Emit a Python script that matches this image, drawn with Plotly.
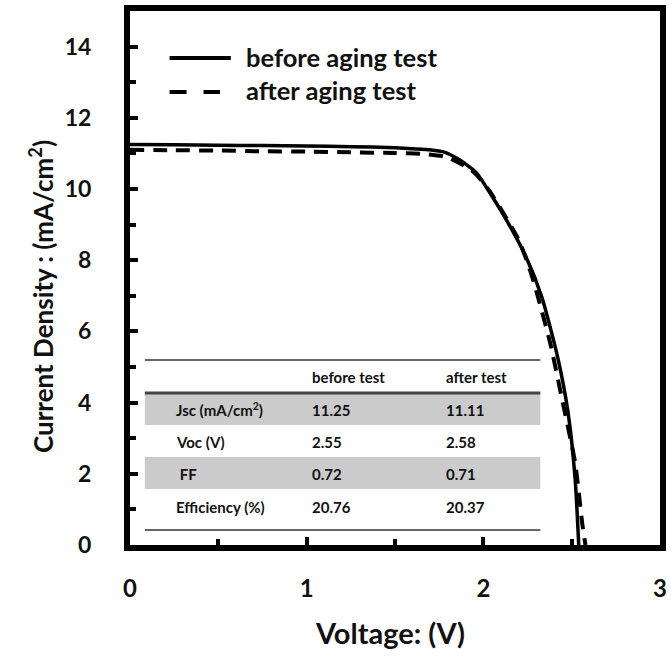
import plotly.graph_objects as go

# ---------------- data ----------------
v_before = [0, 0.25, 0.5, 0.75, 1.0, 1.25, 1.5, 1.6, 1.7, 1.77, 1.865, 1.96, 2.05, 2.14, 2.24, 2.33, 2.42, 2.48, 2.52, 2.54]
j_before = [11.25, 11.24, 11.23, 11.22, 11.21, 11.19, 11.16, 11.13, 11.1, 11.05, 10.82, 10.46, 9.79, 9.05, 8.11, 6.98, 5.29, 3.71, 1.83, 0]

v_after = [0, 0.25, 0.5, 0.75, 1.0, 1.25, 1.5, 1.65, 1.79, 1.94, 2.03, 2.2, 2.276, 2.378, 2.45, 2.52, 2.56, 2.578]
j_after = [11.1, 11.09, 11.08, 11.06, 11.05, 11.03, 11.01, 10.99, 10.9, 10.5, 9.98, 8.57, 7.54, 5.68, 3.99, 2.3, 0.6, 0]

series_names = ["before aging test", "after aging test"]

table_header = ["", "before test", "after test"]
table_rows = ["Jsc (mA/cm<sup>2</sup>)", "Voc (V)", " FF", "Efficiency (%)"]
table_before = ["11.25", "2.55", "0.72", "20.76"]
table_after = ["11.11", "2.58", "0.71", "20.37"]

x_ticks = [0, 1, 2, 3]
y_ticks = [0, 2, 4, 6, 8, 10, 12, 14]

x_title = "Voltage: (V)"
y_title = "Current Density : (mA/cm<sup>2</sup>)"

# ---------------- layout helpers ----------------
W, H = 671, 663
PX0, PX1, PY_TOP, PY_BOT = 130, 666, 11, 545
FONT = "Lato, 'Open Sans', sans-serif"


def px(x):
    return (x - PX0) / (PX1 - PX0)


def py(y):
    return (PY_BOT - y) / (PY_BOT - PY_TOP)


fig = go.Figure()
fig.add_trace(go.Scatter(x=v_before, y=j_before, mode="lines", name=series_names[0],
                         line=dict(color="black", width=3.5, shape="spline", smoothing=0.6)))
fig.add_trace(go.Scatter(x=v_after, y=j_after, mode="lines", name=series_names[1],
                         line=dict(color="black", width=4, dash="14px,9px", shape="spline", smoothing=0.6)))

shapes = []
annotations = []

# ---- legend (custom) ----
shapes.append(dict(type="line", xref="paper", yref="paper", x0=px(170), x1=px(232), y0=py(58), y1=py(58),
                   line=dict(color="black", width=4)))
shapes.append(dict(type="line", xref="paper", yref="paper", x0=px(170), x1=px(221), y0=py(92), y1=py(92),
                   line=dict(color="black", width=4, dash="17px,17px")))
for name, yy in zip(series_names, [57, 90]):
    annotations.append(dict(xref="paper", yref="paper", x=px(245), y=py(yy), text="<b>" + name + "</b>",
                            showarrow=False, xanchor="left", yanchor="middle",
                            font=dict(family=FONT, size=25.5, color="#111")))

# ---- table ----
TX0, TX1 = 145, 545
for (y0, y1) in [(394, 425), (457, 489)]:
    shapes.append(dict(type="rect", xref="paper", yref="paper", x0=px(TX0), x1=px(TX1), y0=py(y1), y1=py(y0),
                       fillcolor="#cbcbcb", line=dict(width=0), layer="below"))
shapes.append(dict(type="line", xref="paper", yref="paper", x0=px(TX0), x1=px(TX1), y0=py(360), y1=py(360),
                   line=dict(color="#333", width=1.5)))
shapes.append(dict(type="line", xref="paper", yref="paper", x0=px(TX0), x1=px(TX1), y0=py(393), y1=py(393),
                   line=dict(color="#444", width=3)))
shapes.append(dict(type="line", xref="paper", yref="paper", x0=px(TX0), x1=px(TX1), y0=py(530), y1=py(530),
                   line=dict(color="#333", width=1.5)))

col_x = [175, 312, 448]
row_y = [410, 442, 474, 507]
tfont = dict(family=FONT, size=15, color="#111")
for cx, txt in zip(col_x[1:], table_header[1:]):
    annotations.append(dict(xref="paper", yref="paper", x=px(cx), y=py(377), text="<b>" + txt + "</b>",
                            showarrow=False, xanchor="left", yanchor="middle", font=tfont))
for i, ry in enumerate(row_y):
    for cx, txt in zip(col_x, [table_rows[i], table_before[i], table_after[i]]):
        annotations.append(dict(xref="paper", yref="paper", x=px(cx), y=py(ry), text="<b>" + txt + "</b>",
                                showarrow=False, xanchor="left", yanchor="middle", font=tfont))

# ---- axis titles ----
annotations.append(dict(xref="paper", yref="paper", x=px(393), y=py(632), text="<b>" + x_title + "</b>",
                        showarrow=False, xanchor="center", yanchor="middle",
                        font=dict(family=FONT, size=29, color="#111")))
annotations.append(dict(xref="paper", yref="paper", x=px(40), y=py(297), text="<b>" + y_title + "</b>",
                        showarrow=False, xanchor="center", yanchor="middle", textangle=-90,
                        font=dict(family=FONT, size=26, color="#111")))

fig.update_layout(
    width=W, height=H,
    margin=dict(l=PX0, r=W - PX1, t=PY_TOP, b=H - PY_BOT),
    paper_bgcolor="white", plot_bgcolor="white",
    showlegend=False,
    shapes=shapes, annotations=annotations,
    font=dict(family=FONT, color="#111"),
)
fig.update_xaxes(
    range=[0, 3], tickvals=x_ticks, ticktext=["<b>%d</b>" % t for t in x_ticks],
    ticks="inside", ticklen=8, tickwidth=4, tickcolor="black",
    minor=dict(ticks="inside", ticklen=6, tickwidth=4, tickcolor="black", dtick=0.5, tick0=0),
    showline=True, linewidth=6, linecolor="black", mirror=True,
    showgrid=False, zeroline=False,
    tickfont=dict(family=FONT, size=24, color="#111"), ticklabelstandoff=17,
)
fig.update_yaxes(
    range=[0, 15], tickvals=y_ticks, ticktext=["<b>%d</b>" % t for t in y_ticks],
    ticks="inside", ticklen=8, tickwidth=4, tickcolor="black",
    minor=dict(ticks="inside", ticklen=6, tickwidth=4, tickcolor="black", dtick=1, tick0=0),
    showline=True, linewidth=6, linecolor="black", mirror=True,
    showgrid=False, zeroline=False,
    tickfont=dict(family=FONT, size=23, color="#111"), ticklabelstandoff=28,
)

fig.write_html("out.html")
